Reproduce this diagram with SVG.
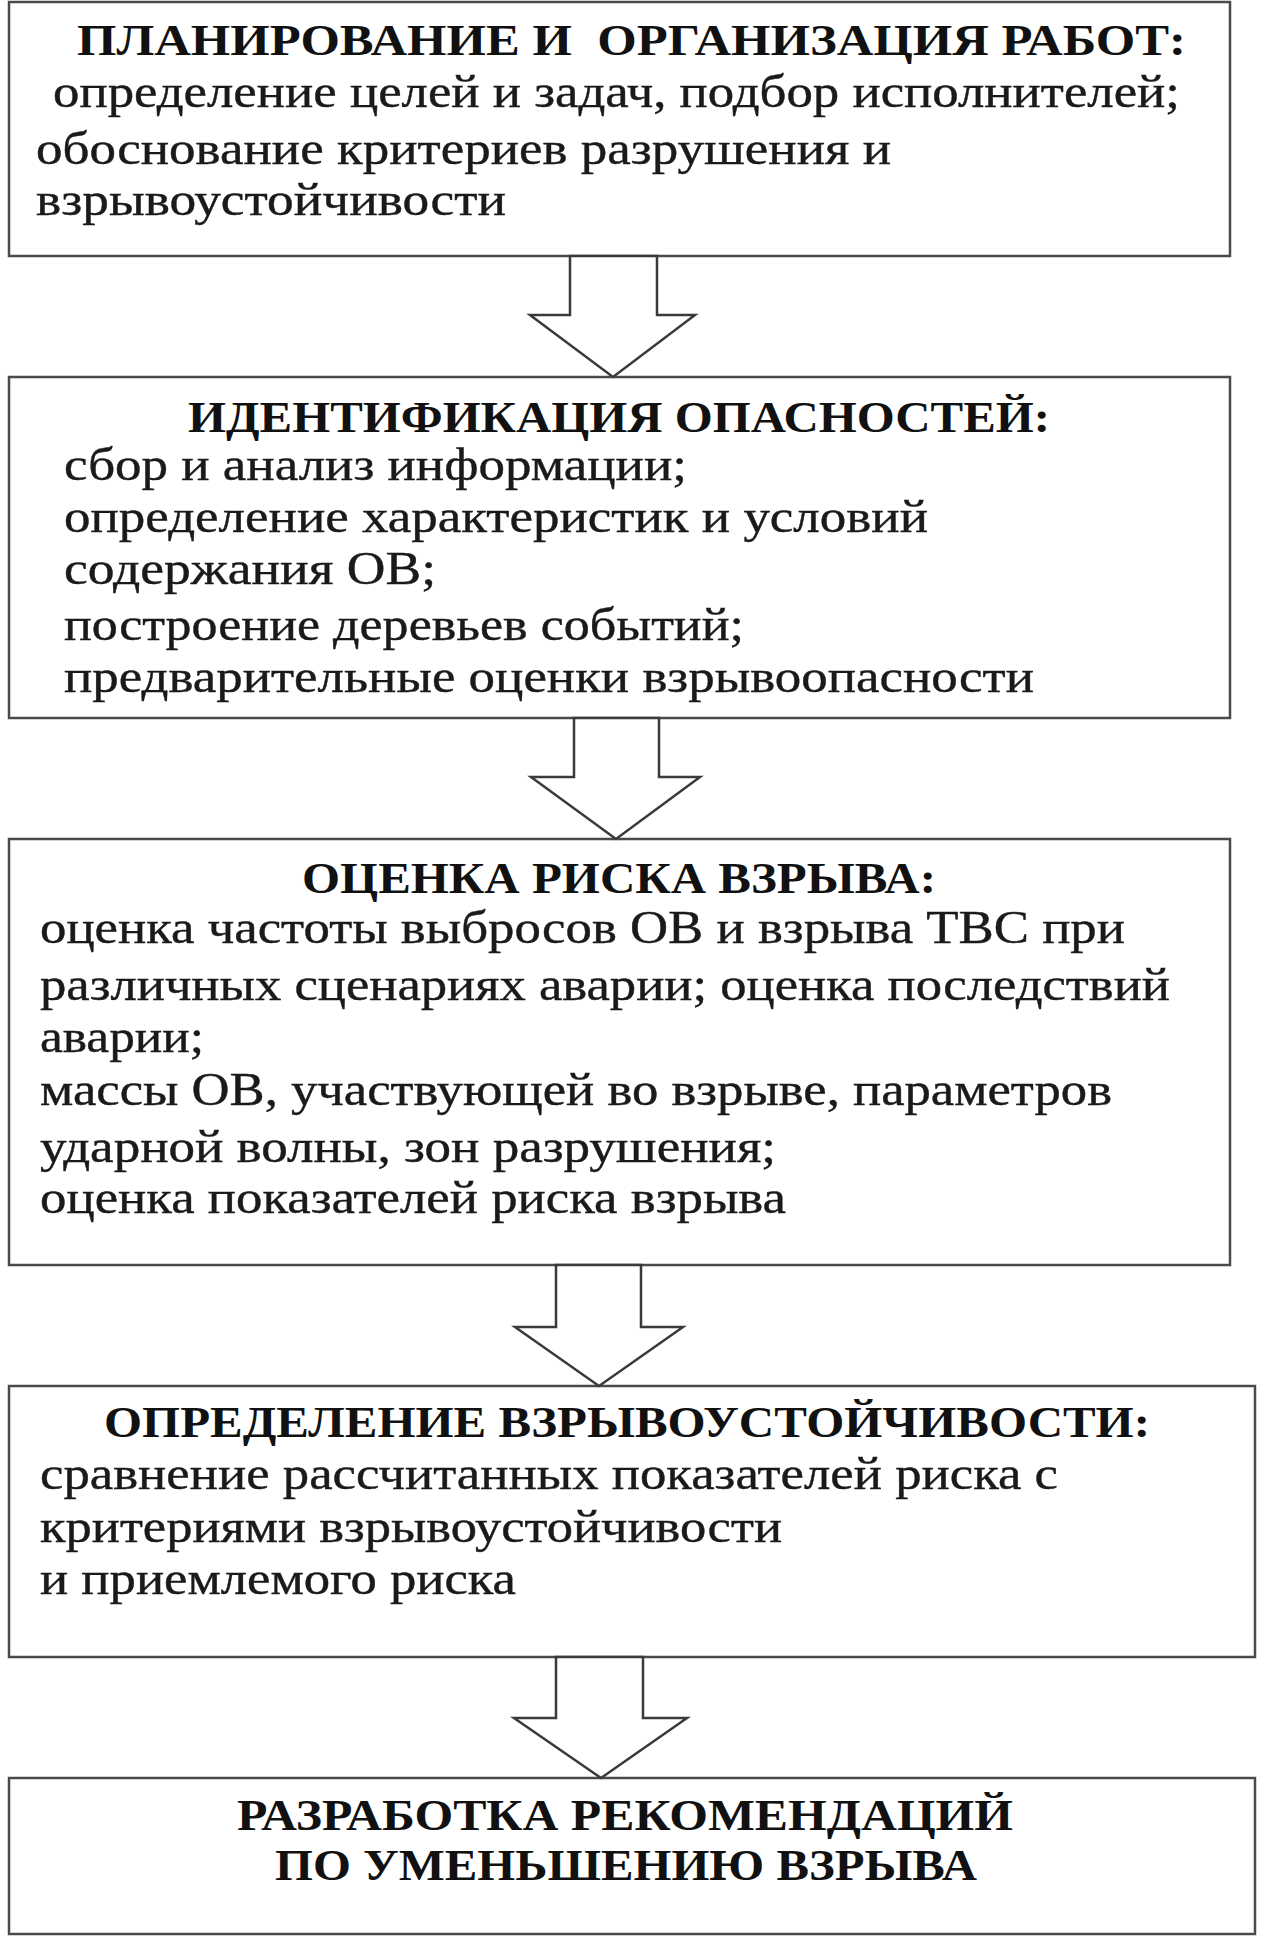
<svg xmlns="http://www.w3.org/2000/svg" width="1265" height="1941" viewBox="0 0 1265 1941">
<style>
.box{fill:#fff;stroke:#4a4a4a;stroke-width:2.5}
.arrow{fill:#fff;stroke:#3a3a3a;stroke-width:2.5;stroke-linejoin:miter}
.t{font-family:"Liberation Serif","Times New Roman",serif;font-weight:bold;font-size:44px;fill:#111;white-space:pre}
.b{font-family:"Liberation Serif","Times New Roman",serif;font-size:46px;fill:#1a1a1a;stroke:#1a1a1a;stroke-width:0.4}
</style>
<rect x="0" y="0" width="1265" height="1941" fill="#fff"/>
<g id="node1">
<rect class="box" x="9" y="2" width="1221" height="254"/>
<text class="t" x="77" y="55" textLength="1109" lengthAdjust="spacingAndGlyphs">ПЛАНИРОВАНИЕ И  ОРГАНИЗАЦИЯ РАБОТ:</text>
<text class="b" x="53" y="107" textLength="1127" lengthAdjust="spacingAndGlyphs">определение целей и задач, подбор исполнителей;</text>
<text class="b" x="36" y="164" textLength="855" lengthAdjust="spacingAndGlyphs">обоснование критериев разрушения и</text>
<text class="b" x="36" y="215" textLength="470" lengthAdjust="spacingAndGlyphs">взрывоустойчивости</text>
</g>
<g id="node2">
<rect class="box" x="9" y="377" width="1221" height="341"/>
<text class="t" x="188" y="432" textLength="862" lengthAdjust="spacingAndGlyphs">ИДЕНТИФИКАЦИЯ ОПАСНОСТЕЙ:</text>
<text class="b" x="64" y="480" textLength="623" lengthAdjust="spacingAndGlyphs">сбор и анализ информации;</text>
<text class="b" x="64" y="532" textLength="864" lengthAdjust="spacingAndGlyphs">определение характеристик и условий</text>
<text class="b" x="64" y="584" textLength="372" lengthAdjust="spacingAndGlyphs">содержания ОВ;</text>
<text class="b" x="64" y="640" textLength="680" lengthAdjust="spacingAndGlyphs">построение деревьев событий;</text>
<text class="b" x="64" y="692" textLength="970" lengthAdjust="spacingAndGlyphs">предварительные оценки взрывоопасности</text>
</g>
<g id="node3">
<rect class="box" x="9" y="839" width="1221" height="426"/>
<text class="t" x="302" y="893" textLength="634" lengthAdjust="spacingAndGlyphs">ОЦЕНКА РИСКА ВЗРЫВА:</text>
<text class="b" x="40" y="943" textLength="1085" lengthAdjust="spacingAndGlyphs">оценка частоты выбросов ОВ и взрыва ТВС при</text>
<text class="b" x="40" y="1000" textLength="1130" lengthAdjust="spacingAndGlyphs">различных сценариях аварии; оценка последствий</text>
<text class="b" x="40" y="1052" textLength="164" lengthAdjust="spacingAndGlyphs">аварии;</text>
<text class="b" x="40" y="1105" textLength="1072" lengthAdjust="spacingAndGlyphs">массы ОВ, участвующей во взрыве, параметров</text>
<text class="b" x="40" y="1162" textLength="736" lengthAdjust="spacingAndGlyphs">ударной волны, зон разрушения;</text>
<text class="b" x="40" y="1213" textLength="746" lengthAdjust="spacingAndGlyphs">оценка показателей риска взрыва</text>
</g>
<g id="node4">
<rect class="box" x="9" y="1386" width="1246" height="271"/>
<text class="t" x="104" y="1437" textLength="1046" lengthAdjust="spacingAndGlyphs">ОПРЕДЕЛЕНИЕ ВЗРЫВОУСТОЙЧИВОСТИ:</text>
<text class="b" x="40" y="1489" textLength="1018" lengthAdjust="spacingAndGlyphs">сравнение рассчитанных показателей риска с</text>
<text class="b" x="40" y="1542" textLength="742" lengthAdjust="spacingAndGlyphs">критериями взрывоустойчивости</text>
<text class="b" x="40" y="1594" textLength="476" lengthAdjust="spacingAndGlyphs">и приемлемого риска</text>
</g>
<g id="node5">
<rect class="box" x="9" y="1778" width="1246" height="156"/>
<text class="t" x="237" y="1830" textLength="776" lengthAdjust="spacingAndGlyphs">РАЗРАБОТКА РЕКОМЕНДАЦИЙ</text>
<text class="t" x="275" y="1880" textLength="702" lengthAdjust="spacingAndGlyphs">ПО УМЕНЬШЕНИЮ ВЗРЫВА</text>
</g>
<g id="connectors">
<polygon class="arrow" points="570,256 657,256 657,315 695,315 613,377 530,315 570,315"/>
<polygon class="arrow" points="574,718 659,718 659,777 700,777 616,839 531,777 574,777"/>
<polygon class="arrow" points="556,1265 641,1265 641,1327 683,1327 599,1386 515,1327 556,1327"/>
<polygon class="arrow" points="556,1657 643,1657 643,1718 687,1718 601,1778 514,1718 556,1718"/>
</g>
</svg>
